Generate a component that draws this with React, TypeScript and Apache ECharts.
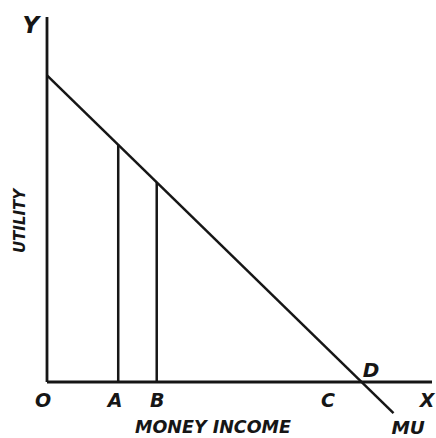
import React, { useEffect, useRef } from "react";
import * as echarts from "echarts";

// Data (x: money income, y: utility), arbitrary units
const yAxisLine = [[0, 0], [0, 100]];
const xAxisLine = [[0, 0], [100, 0]];
const muCurve = [[0, 84], [90, -8.5]];
const lineA = [[18.5, 0], [18.5, 65]];
const lineB = [[28.5, 0], [28.5, 54.7]];

const pointNames = ["O", "A", "B", "C", "D", "X", "MU", "Y"];
const pointX = [-1.0, 17.7, 28.6, 73.0, 84.2, 98.7, 93.8, -4.2];
const pointY = [-5.0, -5.0, -5.0, -5.0, 3.3, -5.0, -12.6, 97.8];
const pointSize = [19, 19, 19, 19, 20, 19, 18.5, 23];

const xTitle = "MONEY INCOME";
const yTitle = "UTILITY";

const INK = "#161616";
const FONT = "DejaVu Sans";

export default function App() {
  const ref = useRef<HTMLDivElement>(null);
  useEffect(() => {
    const chart = echarts.init(ref.current!, null, { renderer: "svg" });
    const lineSeries = (data: number[][], w = 2.5) => ({
      type: "line",
      data,
      symbol: "none",
      silent: true,
      lineStyle: { color: INK, width: w },
    });
    chart.setOption({
      animation: false,
      backgroundColor: "#ffffff",
      grid: { left: 8.5, right: 4, top: 17, bottom: 1.25 },
      xAxis: { type: "value", min: -10, max: 100, show: false },
      yAxis: { type: "value", min: -15, max: 100, show: false },
      series: [
        lineSeries(yAxisLine, 2.8),
        lineSeries(xAxisLine, 2.8),
        lineSeries(muCurve, 2.5),
        lineSeries(lineA, 2.5),
        lineSeries(lineB, 2.5),
        {
          type: "scatter",
          silent: true,
          symbolSize: 1,
          itemStyle: { color: "rgba(0,0,0,0)", opacity: 1 },
          data: pointNames.map((n, i) => ({
            value: [pointX[i], pointY[i]],
            label: {
              show: true,
              position: "inside",
              formatter: n,
              color: INK,
              opacity: 1,
              textBorderWidth: 0,
              fontFamily: FONT,
              fontStyle: "italic",
              fontWeight: "bold",
              fontSize: pointSize[i],
            },
          })),
        },
      ],
      graphic: [
        {
          type: "text",
          x: 213,
          y: 427,
          style: {
            text: xTitle,
            fill: INK,
            font: `italic bold 17.5px "${FONT}"`,
            align: "center",
            verticalAlign: "middle",
          },
        },
        {
          type: "text",
          x: 20,
          y: 221,
          rotation: Math.PI / 2,
          style: {
            text: yTitle,
            fill: INK,
            font: `italic bold 15px "${FONT}"`,
            align: "center",
            verticalAlign: "middle",
          },
        },
      ],
    });
    return () => chart.dispose();
  }, []);
  return (
    <div
      ref={ref}
      style={{ position: "fixed", left: 0, top: 0, width: 436, height: 438, background: "#fff" }}
    />
  );
}
